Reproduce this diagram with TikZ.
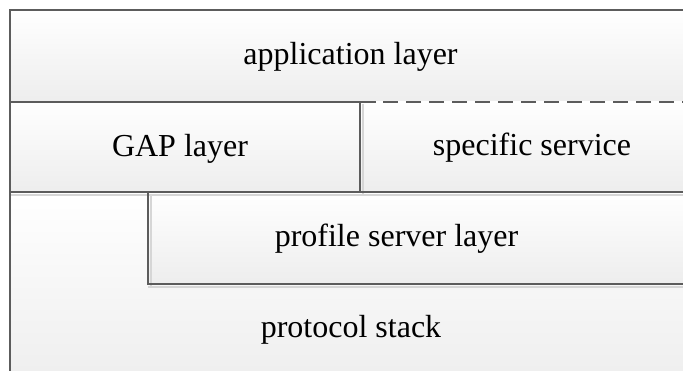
\documentclass[tikz,border=0pt]{standalone}
\usepackage{fontspec}
\setmainfont{Liberation Serif}
\begin{document}
\begin{tikzpicture}[x=1pt,y=-1pt,
  box/.style={rectangle,anchor=north west,inner sep=0pt,outer sep=0pt,draw=none,top color=white,bottom color=black!7},
  edge/.style={draw=black!64,line width=2pt},
  shadowline/.style={draw=black!16,line width=2pt},
  lbl/.style={font=\fontsize{32}{38}\selectfont,anchor=base,inner sep=0pt,text=black}]
\useasboundingbox (0,0) rectangle (683,371);
\clip (0,0) rectangle (683,371);
\fill[white] (0,0) rectangle (683,371);
% boxes
\node[box,minimum width=690pt,minimum height=200pt] (stackbox) at (10,192) {};
\node[box,minimum width=552pt,minimum height=92pt] (profbox) at (148,192) {};
\node[box,minimum width=690pt,minimum height=92pt] (appbox) at (10,10) {};
\node[box,minimum width=340pt,minimum height=90pt] (specbox) at (360,102) {};
\node[box,minimum width=350pt,minimum height=90pt] (gapbox) at (10,102) {};
% helper points on the boundary between application layer and specific service
\coordinate (solidend) at (376,102);
\coordinate (dashstart) at (383,102);
% shadows
\draw[shadowline] ([xshift=3pt,yshift=-2pt]gapbox.north east) -- ([xshift=3pt,yshift=-2pt]gapbox.south east);
\draw[shadowline] ([yshift=-3pt]gapbox.south west) -- ([yshift=-3pt]specbox.south east);
\draw[shadowline] ([xshift=3pt,yshift=-2pt]profbox.north west) -- ([xshift=3pt,yshift=-2pt]profbox.south west);
\draw[shadowline] ([yshift=-3pt]profbox.south west) -- ([yshift=-3pt]profbox.south east);
% edges
\draw[edge] (appbox.north east) -- (appbox.north west) -- (stackbox.south west);
\draw[edge] (appbox.south west) -- (solidend);
\draw[edge,dash pattern=on 15pt off 8pt] (dashstart) -- (specbox.north east);
\draw[edge] (gapbox.north east) -- (gapbox.south east);
\draw[edge] (gapbox.south west) -- (specbox.south east);
\draw[edge] (profbox.north west) -- (profbox.south west) -- (profbox.south east);
% labels
\node[lbl] (applbl) at (350.5,65) {application layer};
\node[lbl] (gaplbl) at (180,157) {GAP layer};
\node[lbl] (speclbl) at (532,155.5) {specific service};
\node[lbl] (proflbl) at (396.5,246.5) {profile server layer};
\node[lbl] (stacklbl) at (351,338) {protocol stack};
\end{tikzpicture}
\end{document}
